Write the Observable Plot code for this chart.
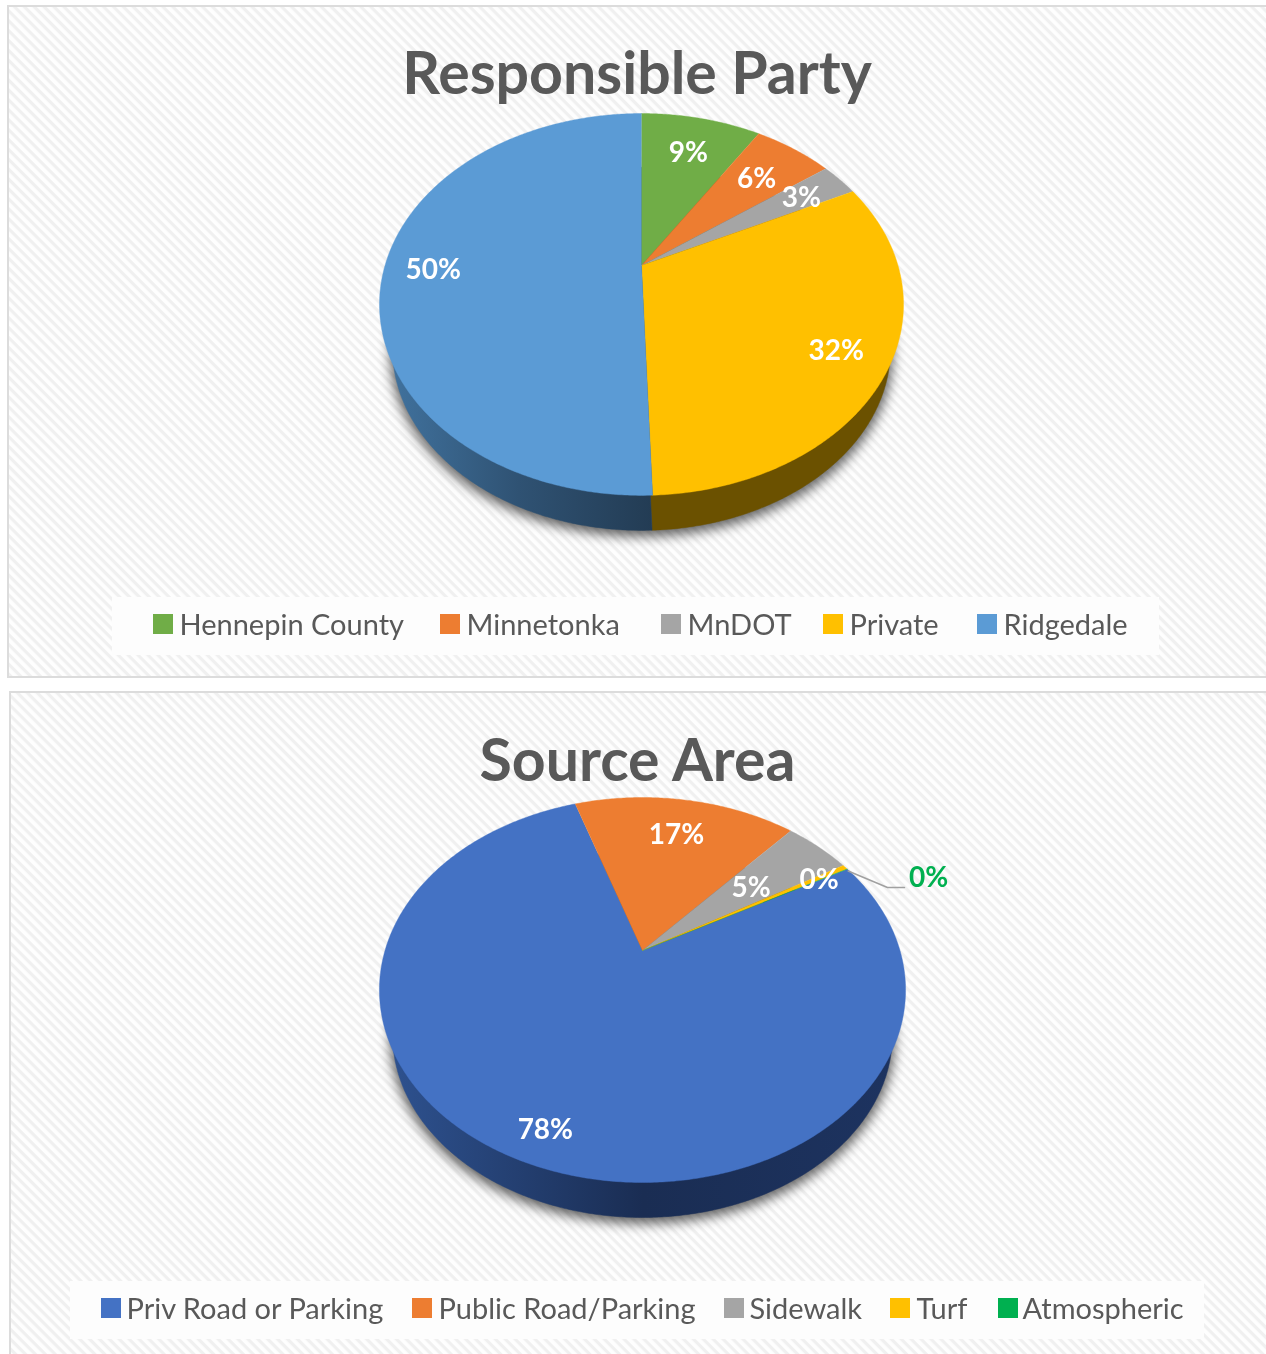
<!DOCTYPE html>
<html>
<head>
<meta charset="utf-8">
<script src="https://cdn.jsdelivr.net/npm/d3@7"></script>
<script src="https://cdn.jsdelivr.net/npm/@observablehq/plot@0.6"></script>
<style>
  html, body { margin: 0; padding: 0; background: #fff; }
  svg { display: block; }
</style>
</head>
<body>
<div id="chart"></div>
<script>
// ---- data ----
const partyTitle = "Responsible Party";
const partyNames = ["Hennepin County", "Minnetonka", "MnDOT", "Private", "Ridgedale"];
const partyValues = [9.0, 5.9, 2.85, 31.7, 50.55];
const partyLabels = ["9%", "6%", "3%", "32%", "50%"];
const partyColors = ["#70ad47", "#ed7d31", "#a5a5a5", "#ffc000", "#5b9bd5"];

const sourceTitle = "Source Area";
const sourceNames = ["Priv Road or Parking", "Public Road/Parking", "Sidewalk", "Turf", "Atmospheric"];
const sourceValues = [78.0, 16.6, 4.95, 0.42, 0.02];
const sourceLabels = ["78%", "17%", "5%", "0%", "0%"];
const sourceColors = ["#4472c4", "#ed7d31", "#a5a5a5", "#ffc000", "#00b050"];

// ---- layout ----
const pies = [
  {
    title: partyTitle, names: partyNames, values: partyValues, labels: partyLabels, colors: partyColors,
    panel: {x1: 8, x2: 1290, y1: 6, y2: 677},
    titleX: 636.5, titleY: 74.5,
    cx: 641, cy: 265, R: 256.5, Ry: 183, k: 0.204, sideScale: 0.95, sideCy: 311.5, start: 0,
    labelR: [0.75, 0.73, 0.79, 0.81, 0.81],
    sides: ["#3a5a28", "#7d4218", "#555", "#6b5100", "url(#sideA)"],
    legendBox: {x1: 112, x2: 1159, y1: 597, y2: 655},
    legendY: 625,
    swatchX: [153, 440, 661, 823, 977],
    legendTextX: [179, 466, 687, 849, 1003]
  },
  {
    title: sourceTitle, names: sourceNames, values: sourceValues, labels: sourceLabels, colors: sourceColors,
    panel: {x1: 10, x2: 1290, y1: 692, y2: 1400},
    titleX: 637, titleY: 761.5,
    cx: 642, cy: 950, R: 257.5, Ry: 184.4, k: 0.2052, sideScale: 0.95, sideCy: 996.6, start: 61,
    labelR: [0.863, 0.745, 0.588, 0.86, null],
    sides: ["url(#sideB)", "#7d4218", "#555", "#6b5100", "#005c2e"],
    legendBox: {x1: 70, x2: 1204, y1: 1281, y2: 1339},
    legendY: 1309,
    swatchX: [101, 412, 724, 890, 998],
    legendTextX: [126, 438, 749, 916, 1022],
    callout: {index: 4, x: 928, y: 878, elbow: [[887, 887], [904, 887]]}
  }
];

// ---- geometry from the values ----
function project(p, deg, r = 1, scale = 1, cy = p.cy) {
  const a = deg * Math.PI / 180, u = r * Math.sin(a), v = r * Math.cos(a), w = 1 + p.k * v;
  return [p.cx + scale * p.R * u / w, cy - scale * p.Ry * v / w];
}
function angles(p) {
  const total = d3.sum(p.values);
  let cursor = p.start;
  return p.values.map(v => {
    const a0 = cursor, a1 = cursor + v / total * 360;
    cursor = a1;
    return [a0, a1];
  });
}
function wedge(p, i, [a0, a1], scale = 1, cy = p.cy) {
  const rows = [project(p, 0, 0, scale, cy)];
  const n = Math.max(2, Math.ceil((a1 - a0) * 2));
  for (let j = 0; j <= n; j++) rows.push(project(p, a0 + (a1 - a0) * j / n, 1, scale, cy));
  return rows.map(([x, y]) => ({x, y, name: p.names[i], slice: p.title + i}));
}
function ring(p, scale, cy, dy = 0) {
  return d3.range(0, 361, 1).map(a => {
    const [x, y] = project(p, a, 1, scale, cy);
    return {x, y: y + dy};
  });
}

const marks = [];

// gradient and hatch definitions
marks.push(() => {
  const defs = d3.create("svg:defs");
  const hatch = defs.append("pattern").attr("id", "hatch").attr("patternUnits", "userSpaceOnUse")
    .attr("width", 7).attr("height", 7).attr("patternTransform", "rotate(45)");
  hatch.append("rect").attr("width", 7).attr("height", 7).attr("fill", "#fefefe");
  hatch.append("rect").attr("width", 7).attr("height", 3.2).attr("fill", "#f0f0f0");
  const grad = (id, x1, x2, stops) => {
    const g = defs.append("linearGradient").attr("id", id).attr("gradientUnits", "userSpaceOnUse")
      .attr("x1", x1).attr("x2", x2).attr("y1", 0).attr("y2", 0);
    stops.forEach(([o, c]) => g.append("stop").attr("offset", o).attr("stop-color", c));
  };
  grad("sideA", 385, 652, [[0, "#41739f"], [0.5, "#2f5273"], [1, "#233c54"]]);
  grad("sideB", 385, 900, [[0, "#2e5290"], [0.5, "#1a2d53"], [1, "#1d3360"]]);
  return defs.node();
});

for (const p of pies) {
  const slices = angles(p);

  marks.push(Plot.rect([p.panel], {x1: "x1", x2: "x2", y1: "y1", y2: "y2",
    fill: "url(#hatch)", stroke: "#dcdcdc", strokeWidth: 2}));
  marks.push(Plot.rect([p.legendBox], {x1: "x1", x2: "x2", y1: "y1", y2: "y2", fill: "#fdfdfd"}));

  marks.push(Plot.text([p.title], {x: () => p.titleX, y: () => p.titleY, text: d => d,
    fontFamily: "Lato", fontWeight: 700, fontSize: 59, fill: "#595959"}));

  // soft shadow below the pie
  marks.push(Plot.line(ring(p, p.sideScale * 1.01, p.sideCy, 4), {x: "x", y: "y",
    fill: "#000", fillOpacity: 0.6, stroke: "none", imageFilter: "blur(6px)"}));

  // extruded side
  slices.forEach((s, i) => {
    marks.push(Plot.line(wedge(p, i, s, p.sideScale, p.sideCy), {x: "x", y: "y",
      fill: p.sides[i], stroke: p.sides[i], strokeWidth: 0.5}));
  });

  // top surface
  slices.forEach((s, i) => {
    marks.push(Plot.line(wedge(p, i, s), {x: "x", y: "y", z: "slice", fill: "name", stroke: "name", strokeWidth: 0.4}));
  });

  // slice labels
  const labelRows = p.labels.map((text, i) => {
    if (p.labelR[i] == null) return null;
    const [x, y] = project(p, (slices[i][0] + slices[i][1]) / 2, p.labelR[i]);
    return {x, y, text};
  }).filter(Boolean);
  marks.push(Plot.text(labelRows, {x: "x", y: "y", dy: 2, text: "text", fill: "#fff",
    fontFamily: "Lato", fontWeight: 700, fontSize: 28}));

  // callout label
  if (p.callout) {
    const c = p.callout, rim = project(p, slices[c.index][0]);
    marks.push(Plot.line([[rim[0] + 1, rim[1] + 2], ...c.elbow], {x: d => d[0], y: d => d[1],
      stroke: "#a0a0a0", strokeWidth: 1.5}));
    marks.push(Plot.text([p.labels[c.index]], {x: () => c.x, y: () => c.y, text: d => d,
      fill: p.colors[c.index], fontFamily: "Lato", fontWeight: 700, fontSize: 28}));
  }

  // legend
  const legendRows = p.names.map((name, i) => ({name, sx: p.swatchX[i], tx: p.legendTextX[i]}));
  marks.push(Plot.rect(legendRows, {x1: "sx", x2: d => d.sx + 20, y1: () => p.legendY - 11, y2: () => p.legendY + 9, fill: "name"}));
  marks.push(Plot.text(legendRows, {x: "tx", y: () => p.legendY, text: "name", textAnchor: "start",
    fontFamily: "Lato", fontSize: 29, fill: "#595959"}));
}

const chart = Plot.plot({
  width: 1266,
  height: 1354,
  margin: 0,
  x: {domain: [0, 1266], range: [0, 1266], axis: null},
  y: {domain: [0, 1354], range: [0, 1354], axis: null},
  color: {
    domain: [...partyNames, ...sourceNames],
    range: [...partyColors, ...sourceColors]
  },
  style: {background: "#fff", filter: "blur(0.7px)"},
  marks
});
document.getElementById("chart").appendChild(chart);
</script>
</body>
</html>
